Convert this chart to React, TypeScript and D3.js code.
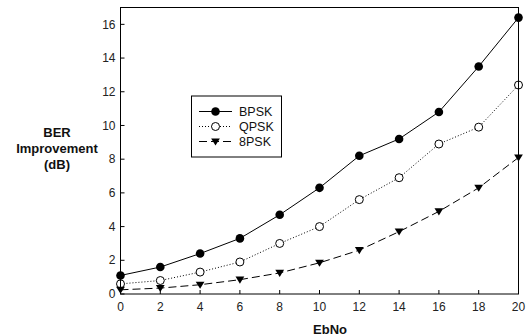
import React from "react";
import * as d3 from "d3";

const ebno = [0, 2, 4, 6, 8, 10, 12, 14, 16, 18, 20];
const bpsk = [1.1, 1.6, 2.4, 3.3, 4.7, 6.3, 8.2, 9.2, 10.8, 13.5, 16.4];
const qpsk = [0.6, 0.8, 1.3, 1.9, 3.0, 4.0, 5.6, 6.9, 8.9, 9.9, 12.4];
const psk8 = [0.25, 0.35, 0.55, 0.85, 1.25, 1.85, 2.6, 3.7, 4.9, 6.3, 8.1];
const xTicks = [0, 2, 4, 6, 8, 10, 12, 14, 16, 18, 20];
const yTicks = [0, 2, 4, 6, 8, 10, 12, 14, 16];

const seriesNames = ["BPSK", "QPSK", "8PSK"];
const seriesValues = [bpsk, qpsk, psk8];

const W = 530;
const H = 336;
const FONT = "'Liberation Sans', Arial, sans-serif";

const styles = [
  { dash: "none", marker: "filled" },
  { dash: "1,2", marker: "open" },
  { dash: "8,4", marker: "triangle" },
];

function Marker({ kind, x, y }: { kind: string; x: number; y: number }) {
  if (kind === "filled") return <circle cx={x} cy={y} r={4.3} fill="black" />;
  if (kind === "open")
    return <circle cx={x} cy={y} r={4} fill="white" stroke="black" strokeWidth={1} />;
  const s = 4.4;
  return (
    <path
      d={`M${x - s},${y - s * 0.7}L${x + s},${y - s * 0.7}L${x},${y + s * 0.9}Z`}
      fill="black"
    />
  );
}

export default function App() {
  const x = d3.scaleLinear().domain([0, 20]).range([120.5, 518.5]);
  const y = d3.scaleLinear().domain([0, 17]).range([294, 7.5]);

  const line = d3
    .line<number>()
    .x((_, i) => x(ebno[i]))
    .y((d) => y(d));

  const legX = 191.5;
  const legY = 96;

  return (
    <svg
      width={W}
      height={H}
      style={{ position: "absolute", left: 0, top: 0, background: "white" }}
      fontFamily={FONT}
    >
      <rect width={W} height={H} fill="white" />

      {/* series */}
      {seriesValues.map((vals, si) => (
        <g key={seriesNames[si]}>
          <path
            d={line(vals) || ""}
            fill="none"
            stroke="black"
            strokeWidth={1}
            strokeDasharray={styles[si].dash}
          />
          {vals.map((v, i) => (
            <Marker key={i} kind={styles[si].marker} x={x(ebno[i])} y={y(v)} />
          ))}
        </g>
      ))}

      {/* frame */}
      <rect
        x={x(0)}
        y={y(17)}
        width={x(20) - x(0)}
        height={y(0) - y(17)}
        fill="none"
        stroke="black"
        strokeWidth={1}
      />

      {/* y ticks */}
      {yTicks.map((t) => (
        <g key={t}>
          <line x1={x(0)} x2={x(0) + 4} y1={y(t)} y2={y(t)} stroke="black" />
          <text
            x={x(0) - 5}
            y={y(t)}
            dy="0.35em"
            textAnchor="end"
            fontSize={12}
            fill="#222"
          >
            {t}
          </text>
        </g>
      ))}

      {/* x ticks */}
      {xTicks.map((t) => (
        <g key={t}>
          <line x1={x(t)} x2={x(t)} y1={y(0)} y2={y(0) - 4} stroke="black" />
          <text
            x={x(t)}
            y={y(0) + 13}
            dy="0.35em"
            textAnchor="middle"
            fontSize={12}
            fill="#222"
          >
            {t}
          </text>
        </g>
      ))}

      {/* axis titles */}
      <text x={330} y={334} textAnchor="middle" fontSize={13} fontWeight="bold" fill="#111">
        EbNo
      </text>
      <text textAnchor="middle" fontSize={13} fontWeight="bold" fill="#111">
        <tspan x={57} y={137}>BER</tspan>
        <tspan x={57} y={153}>Improvement</tspan>
        <tspan x={57} y={169}>(dB)</tspan>
      </text>

      {/* legend */}
      <rect x={legX} y={legY} width={90} height={61} fill="white" stroke="black" strokeWidth={1} />
      {seriesNames.map((name, i) => {
        const ly = legY + 15.5 + i * 15;
        return (
          <g key={name}>
            <line
              x1={199}
              x2={232}
              y1={ly}
              y2={ly}
              stroke="black"
              strokeDasharray={styles[i].dash}
            />
            <Marker kind={styles[i].marker} x={215.5} y={ly} />
            <text x={239} y={ly} dy="0.35em" fontSize={12.5} fill="#111">
              {name}
            </text>
          </g>
        );
      })}
    </svg>
  );
}
